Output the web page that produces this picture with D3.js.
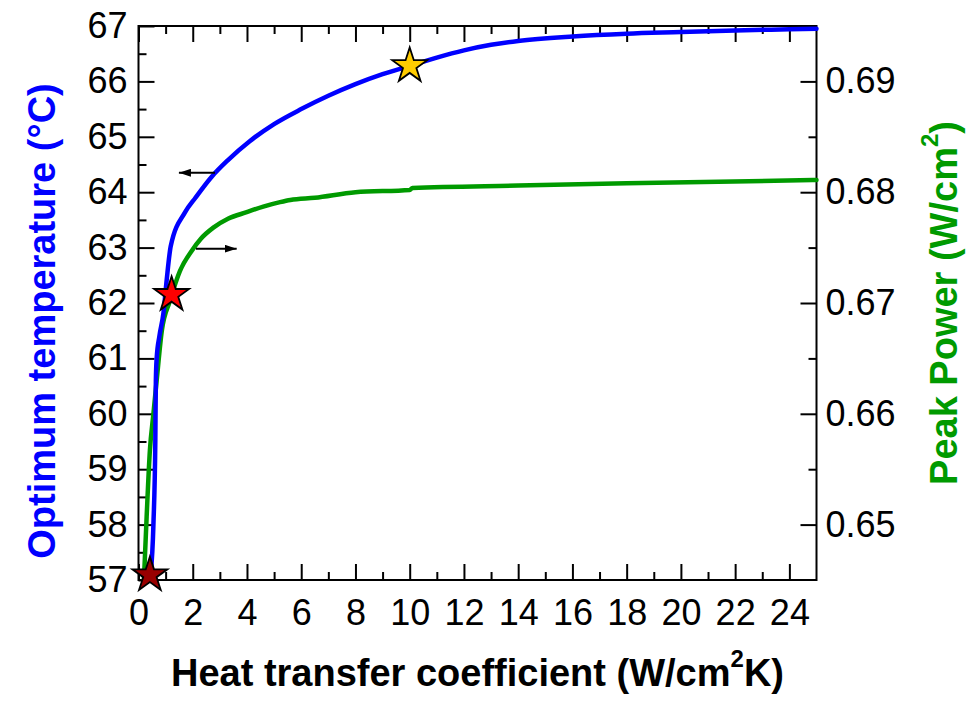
<!DOCTYPE html>
<html>
<head>
<meta charset="utf-8">
<script src="https://cdn.jsdelivr.net/npm/d3@7"></script>
<style>
  body { margin: 0; background: #fff; }
  text { font-family: Arial, 'Liberation Sans', sans-serif; }
</style>
</head>
<body>
<svg width="977" height="704"></svg>
<script>
// optimum temperature (left axis) vs heat transfer coefficient
const hTemp = [0.45, 0.55, 0.62, 0.64, 0.67, 0.77, 0.92, 1.04, 1.19, 1.72, 2.1, 2.7, 3.3, 4.1, 5, 6, 7, 8, 9, 10, 11, 12, 13, 14, 16, 18, 20, 22, 24, 25];
const tempOpt = [57.1, 58.0, 59.5, 60.6, 61.0, 61.4, 61.82, 62.42, 63.03, 63.64, 63.9, 64.28, 64.58, 64.92, 65.23, 65.5, 65.74, 65.95, 66.13, 66.28, 66.43, 66.56, 66.66, 66.73, 66.81, 66.86, 66.89, 66.92, 66.94, 66.95];

// peak power (right axis)
const hPower = [0.2, 0.3, 0.42, 0.55, 0.67, 0.86, 1.16, 1.53, 1.96, 2.3, 2.76, 3.3, 3.99, 4.6, 5.22, 5.6, 6.5, 8, 10, 10.1, 14, 18, 25];
const peakPower = [0.645, 0.6507, 0.6567, 0.660, 0.663, 0.6675, 0.6702, 0.6729, 0.6747, 0.6758, 0.6768, 0.6776, 0.6782, 0.6787, 0.6791, 0.6793, 0.6795, 0.6800, 0.6802, 0.68038, 0.6806, 0.6808, 0.6811];

// star markers (left axis units)
const starH = [0.42, 1.22, 10];
const starT = [57.09, 62.15, 66.28];
const starFill = ['#990000', '#ff0000', '#ffcc00'];

const xTicks = d3.range(0, 25, 2);
const leftTicks = d3.range(57, 68, 1);
const rightTicks = [0.65, 0.66, 0.67, 0.68, 0.69];

const margin = {left: 138.5, right: 160.5, top: 26, bottom: 124};
const width = 977, height = 704;

const svg = d3.select('svg');

const x = d3.scaleLinear().domain([0, 25]).range([margin.left, width - margin.right]);
const yL = d3.scaleLinear().domain([57, 67]).range([height - margin.bottom, margin.top]);
const yR = d3.scaleLinear().domain([0.645, 0.695]).range([height - margin.bottom, margin.top]);

const blue = '#0000ff';
const green = '#009a00';

function styleAxis(g) {
  g.select('.domain').remove();
  g.selectAll('line').attr('stroke', '#000').attr('stroke-width', 2);
  g.selectAll('text').attr('font-size', 36).attr('fill', '#000');
}

const bottomY = yL.range()[0];
const topY = yL.range()[1];

// minor ticks
svg.append('g').attr('transform', `translate(0,${bottomY})`)
  .call(d3.axisBottom(x).tickValues(d3.range(1, 25, 2)).tickSize(-8).tickFormat(''))
  .call(styleAxis);
svg.append('g').attr('transform', `translate(0,${topY})`)
  .call(d3.axisTop(x).tickValues(d3.range(1, 25, 2)).tickSize(-8).tickFormat(''))
  .call(styleAxis);
svg.append('g').attr('transform', `translate(${x(0)},0)`)
  .call(d3.axisLeft(yL).tickValues(d3.range(57.5, 67, 1)).tickSize(-8).tickFormat(''))
  .call(styleAxis);
svg.append('g').attr('transform', `translate(${x(25)},0)`)
  .call(d3.axisRight(yR).tickValues([0.655, 0.665, 0.675, 0.685]).tickSize(-8).tickFormat(''))
  .call(styleAxis);

// major ticks
svg.append('g').attr('transform', `translate(0,${bottomY})`)
  .call(d3.axisBottom(x).tickValues(xTicks).tickSize(-16).tickPadding(19).tickFormat(d3.format('d')))
  .call(styleAxis);
svg.append('g').attr('transform', `translate(0,${topY})`)
  .call(d3.axisTop(x).tickValues(xTicks).tickSize(-16).tickFormat(''))
  .call(styleAxis);
svg.append('g').attr('transform', `translate(${x(0)},0)`)
  .call(d3.axisLeft(yL).tickValues(leftTicks).tickSize(-16).tickPadding(11).tickFormat(d3.format('d')))
  .call(styleAxis);
svg.append('g').attr('transform', `translate(${x(25)},0)`)
  .call(d3.axisRight(yR).tickValues(rightTicks).tickSize(-16).tickPadding(9).tickFormat(d3.format('.2f')))
  .call(styleAxis);

// frame
svg.append('rect')
  .attr('x', x(0)).attr('y', topY)
  .attr('width', x(25) - x(0)).attr('height', bottomY - topY)
  .attr('fill', 'none').attr('stroke', '#000').attr('stroke-width', 2);

// curves
const lineT = d3.line().curve(d3.curveMonotoneX).x((d, i) => x(hTemp[i])).y(d => yL(d));
const lineP = d3.line().curve(d3.curveMonotoneX).x((d, i) => x(hPower[i])).y(d => yR(d));

svg.append('path').datum(peakPower)
  .attr('d', lineP).attr('fill', 'none').attr('stroke', green)
  .attr('stroke-width', 4.5).attr('stroke-linejoin', 'round').attr('stroke-linecap', 'round');
svg.append('path').datum(tempOpt)
  .attr('d', lineT).attr('fill', 'none').attr('stroke', blue)
  .attr('stroke-width', 4.5).attr('stroke-linejoin', 'round').attr('stroke-linecap', 'round');

// arrows
const defs = svg.append('defs');
defs.append('marker')
  .attr('id', 'head').attr('viewBox', '0 0 12 8')
  .attr('refX', 12).attr('refY', 4)
  .attr('markerWidth', 12).attr('markerHeight', 8)
  .attr('markerUnits', 'userSpaceOnUse').attr('orient', 'auto')
  .append('path').attr('d', 'M0,0L12,4L0,8Z').attr('fill', '#000');

svg.append('line')
  .attr('x1', x(2.82)).attr('x2', x(1.49))
  .attr('y1', yL(64.35)).attr('y2', yL(64.35))
  .attr('stroke', '#000').attr('stroke-width', 2).attr('marker-end', 'url(#head)');
svg.append('line')
  .attr('x1', x(2.12)).attr('x2', x(3.62))
  .attr('y1', yR(0.6749)).attr('y2', yR(0.6749))
  .attr('stroke', '#000').attr('stroke-width', 2).attr('marker-end', 'url(#head)');

// stars
svg.selectAll('.star').data(starH).join('path')
  .attr('class', 'star')
  .attr('transform', (d, i) => `translate(${x(d)},${yL(starT[i])})`)
  .attr('d', d3.symbol(d3.symbolStar, 380))
  .attr('fill', (d, i) => starFill[i])
  .attr('stroke', '#000').attr('stroke-width', 1.8).attr('stroke-linejoin', 'miter');

// axis titles
const xTitle = svg.append('text')
  .attr('x', (x(0) + x(25)) / 2).attr('y', 686)
  .attr('text-anchor', 'middle').attr('font-size', 38).attr('font-weight', 'bold');
xTitle.append('tspan').text('Heat transfer coefficient (W/cm');
xTitle.append('tspan').attr('font-size', 24).attr('dy', -19).text('2');
xTitle.append('tspan').attr('dy', 19).text('K)');

svg.append('text')
  .attr('transform', `translate(55,${(topY + bottomY) / 2 + 18}) rotate(-90)`)
  .attr('text-anchor', 'middle').attr('font-size', 38).attr('font-weight', 'bold')
  .attr('fill', blue).text('Optimum temperature (°C)');

const rTitle = svg.append('text')
  .attr('transform', `translate(957,${(topY + bottomY) / 2}) rotate(-90)`)
  .attr('text-anchor', 'middle').attr('font-size', 38).attr('font-weight', 'bold')
  .attr('fill', green);
rTitle.append('tspan').text('Peak Power (W/cm');
rTitle.append('tspan').attr('font-size', 24).attr('dy', -19).text('2');
rTitle.append('tspan').attr('dy', 19).text(')');
</script>
</body>
</html>
